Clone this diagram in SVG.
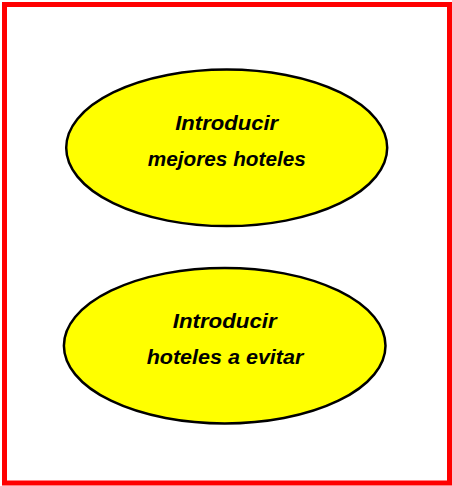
<svg xmlns="http://www.w3.org/2000/svg" width="452" height="486" viewBox="0 0 452 486">
<style>
.node{fill:#ffff00;stroke:#000;stroke-width:2.5}
.lbl{font-family:"Liberation Sans",Arial,sans-serif;font-size:20px;font-weight:bold;font-style:italic;fill:#000;text-anchor:middle}
</style>
<rect x="4.5" y="4.5" width="445" height="478.5" fill="#fff" stroke="#ff0000" stroke-width="5"/>
<g id="connectors"></g>
<g id="node1">
<ellipse class="node" cx="226.7" cy="147.8" rx="160.5" ry="78.3"/>
<text class="lbl" x="226.7" y="130" textLength="103" lengthAdjust="spacingAndGlyphs">Introducir</text>
<text class="lbl" x="226.8" y="165.7" textLength="158" lengthAdjust="spacingAndGlyphs">mejores hoteles</text>
</g>
<g id="node2">
<ellipse class="node" cx="224.7" cy="345.7" rx="160.8" ry="77.8"/>
<text class="lbl" x="224.7" y="328.3" textLength="104" lengthAdjust="spacingAndGlyphs">Introducir</text>
<text class="lbl" x="225" y="364.3" textLength="156.7" lengthAdjust="spacingAndGlyphs">hoteles a evitar</text>
</g>
</svg>
